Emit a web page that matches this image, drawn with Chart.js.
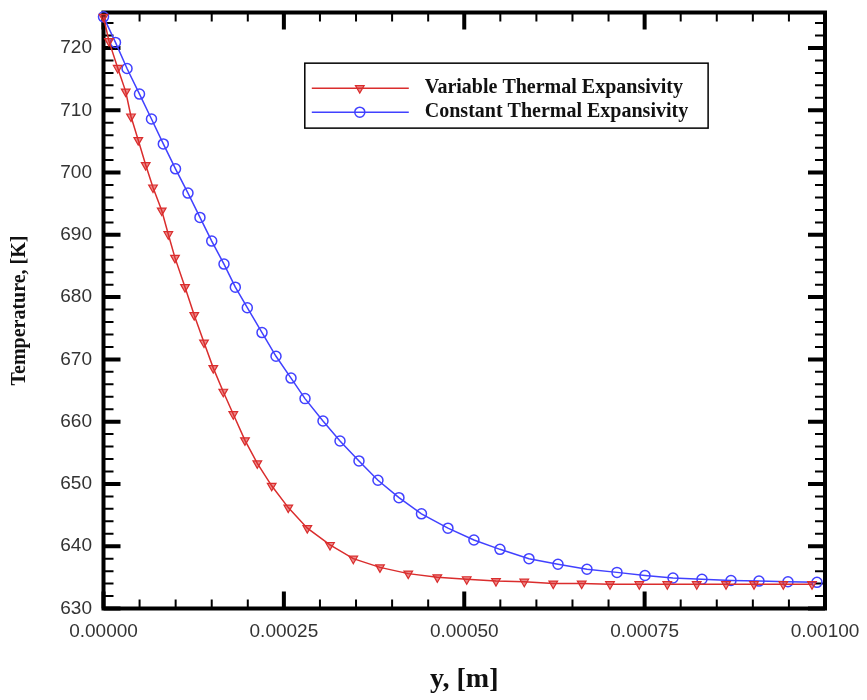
<!DOCTYPE html>
<html>
<head>
<meta charset="utf-8">
<title>Temperature profile</title>
<script src="https://cdn.jsdelivr.net/npm/chart.js@4.4.1/dist/chart.umd.min.js"></script>
<style>
  html, body { margin: 0; padding: 0; background: #fff; }
  #wrap { width: 867px; height: 700px; position: relative; }
</style>
</head>
<body>
<div id="wrap"><canvas id="chart"></canvas></div>
<script>
// position y [m] and temperature [K]
const positionVar = [0, 7.6e-6, 19.7e-6, 30.8e-6, 38.1e-6, 48.2e-6, 58.5e-6, 68.6e-6, 80.7e-6, 89.8e-6,
  99.1e-6, 113.0e-6, 125.8e-6, 139.3e-6, 152.2e-6, 166.0e-6, 179.9e-6, 196.1e-6, 213.2e-6, 233.1e-6,
  256.1e-6, 282.5e-6, 313.9e-6, 346.2e-6, 383.2e-6, 422.4e-6, 462.7e-6, 503.4e-6, 544.0e-6, 583.2e-6,
  623.4e-6, 662.8e-6, 702.0e-6, 742.6e-6, 781.4e-6, 822.2e-6, 862.8e-6, 901.6e-6, 942.2e-6, 982.0e-6];
const tempVar = [725, 721.1, 716.8, 713.0, 709.0, 705.2, 701.2, 697.6, 693.9, 690.1,
  686.3, 681.6, 677.1, 672.7, 668.6, 664.8, 661.2, 657.0, 653.3, 649.7,
  646.2, 642.9, 640.2, 638.0, 636.6, 635.6, 635.0, 634.7, 634.4, 634.3,
  634.0, 634.0, 633.9, 633.9, 633.9, 633.9, 633.9, 633.9, 633.9, 633.9];

const positionConst = [0, 16.6e-6, 32.6e-6, 49.9e-6, 66.5e-6, 82.9e-6, 99.8e-6, 117.1e-6, 133.7e-6, 150.0e-6,
  167.0e-6, 182.7e-6, 199.3e-6, 219.7e-6, 239.1e-6, 259.9e-6, 279.3e-6, 304.2e-6, 327.8e-6, 354.1e-6,
  380.4e-6, 409.5e-6, 440.7e-6, 477.4e-6, 513.4e-6, 549.5e-6, 589.7e-6, 629.9e-6, 670.1e-6, 711.7e-6,
  750.5e-6, 789.3e-6, 829.5e-6, 869.7e-6, 908.5e-6, 948.7e-6, 988.9e-6];
const tempConst = [725, 720.9, 716.7, 712.6, 708.6, 704.6, 700.6, 696.7, 692.8, 689.0,
  685.3, 681.6, 678.3, 674.3, 670.5, 667.0, 663.7, 660.1, 656.9, 653.7,
  650.6, 647.8, 645.2, 642.9, 641.0, 639.5, 638.0, 637.1, 636.3, 635.8,
  635.3, 634.9, 634.7, 634.5, 634.4, 634.3, 634.2];

const xTickLabels = ["0.00000", "0.00025", "0.00050", "0.00075", "0.00100"];
const yTickLabels = ["630", "640", "650", "660", "670", "680", "690", "700", "710", "720"];

const redLine = "rgb(218,45,45)";
const blueLine = "rgb(65,65,255)";

// thick frame with inward major/minor ticks on all four sides
const frameTicks = {
  id: "frameTicks",
  beforeDatasetsDraw(chart) {
    const { ctx, chartArea: a, scales } = chart;
    ctx.save();
    ctx.strokeStyle = "#000";
    scales.x.ticks.forEach((t) => {
      const px = scales.x.getPixelForValue(t.value);
      const major = t.label !== "";
      const len = major ? 17 : 9;
      ctx.lineWidth = major ? 4 : 2;
      ctx.beginPath();
      ctx.moveTo(px, a.bottom);
      ctx.lineTo(px, a.bottom - len);
      ctx.moveTo(px, a.top);
      ctx.lineTo(px, a.top + len);
      ctx.stroke();
    });
    scales.y.ticks.forEach((t) => {
      const py = scales.y.getPixelForValue(t.value);
      const major = t.label !== "";
      const len = major ? 17 : 10;
      ctx.lineWidth = major ? 4 : 2;
      ctx.beginPath();
      ctx.moveTo(a.left, py);
      ctx.lineTo(a.left + len, py);
      ctx.moveTo(a.right, py);
      ctx.lineTo(a.right - len, py);
      ctx.stroke();
    });
    ctx.lineWidth = 4;
    ctx.strokeRect(a.left, a.top, a.right - a.left, a.bottom - a.top);
    ctx.restore();
  },
};

// boxed legend inside the plot, like the original
const boxedLegend = {
  id: "boxedLegend",
  afterDatasetsDraw(chart) {
    const { ctx, chartArea: a } = chart;
    const w = a.right - a.left;
    const h = a.bottom - a.top;
    const left = a.left + w * 0.279;
    const right = a.left + w * 0.838;
    const top = a.top + h * 0.085;
    const bottom = a.top + h * 0.194;
    ctx.save();
    ctx.fillStyle = "#fff";
    ctx.fillRect(left, top, right - left, bottom - top);
    ctx.strokeStyle = "#000";
    ctx.lineWidth = 1.5;
    ctx.strokeRect(left, top, right - left, bottom - top);
    chart.data.datasets.forEach((ds, i) => {
      const y = top + 25 + i * 24;
      ctx.strokeStyle = ds.borderColor;
      ctx.lineWidth = 1.5;
      ctx.beginPath();
      ctx.moveTo(left + 7, y);
      ctx.lineTo(left + 104, y);
      ctx.stroke();
      ctx.fillStyle = ds.backgroundColor;
      ctx.lineWidth = ds.pointBorderWidth;
      Chart.helpers.drawPoint(ctx, {
        pointStyle: ds.pointStyle,
        rotation: ds.pointRotation,
        radius: ds.pointRadius,
        borderWidth: ds.pointBorderWidth,
      }, left + 55, y);
      ctx.fillStyle = "#111";
      ctx.font = 'bold 20px "Liberation Serif", "Times New Roman", serif';
      ctx.textBaseline = "middle";
      ctx.textAlign = "left";
      ctx.fillText(ds.label, left + 120, y);
    });
    ctx.restore();
  },
};

const tickFont = { family: '"Liberation Sans", Arial, sans-serif', size: 19 };

new Chart(document.getElementById("chart"), {
  type: "line",
  data: {
    datasets: [
      {
        label: "Variable Thermal Expansivity",
        data: positionVar.map((p, i) => ({ x: p, y: tempVar[i] })),
        borderColor: redLine,
        backgroundColor: "rgba(218,45,45,0.55)",
        borderWidth: 1.5,
        pointStyle: "triangle",
        pointRotation: 180,
        pointRadius: 5,
        pointBorderWidth: 1.2,
        tension: 0,
        clip: false,
      },
      {
        label: "Constant Thermal Expansivity",
        data: positionConst.map((p, i) => ({ x: p, y: tempConst[i] })),
        borderColor: blueLine,
        backgroundColor: "rgba(255,255,255,0)",
        borderWidth: 1.5,
        pointStyle: "circle",
        pointRadius: 5,
        pointBorderWidth: 1.5,
        tension: 0,
        clip: false,
      },
    ],
  },
  options: {
    responsive: true,
    maintainAspectRatio: false,
    animation: false,
    layout: { padding: { top: 12.5, right: 42, bottom: 0, left: 0 } },
    plugins: {
      legend: { display: false },
      tooltip: { enabled: false },
    },
    scales: {
      x: {
        type: "linear",
        min: 0,
        max: 0.001,
        grid: { display: false, drawTicks: false },
        border: { display: false },
        ticks: {
          stepSize: 0.00005,
          autoSkip: false,
          maxRotation: 0,
          padding: 12,
          color: "#333",
          font: tickFont,
          callback: (v) => {
            const s = v.toFixed(5);
            return xTickLabels.includes(s) ? s : "";
          },
        },
        title: {
          display: true,
          text: "y, [m]",
          color: "#111",
          font: { family: '"Liberation Serif", "Times New Roman", serif', size: 28, weight: "bold" },
          padding: { top: 0, bottom: 3 },
        },
        afterFit: (scale) => {
          scale.height = 91.5;
          scale.paddingLeft = 0;
          scale.paddingRight = 0;
        },
      },
      y: {
        min: 630,
        max: 725.7,
        grid: { display: false, drawTicks: false },
        border: { display: false },
        ticks: {
          stepSize: 2,
          autoSkip: false,
          includeBounds: false,
          padding: 11.5,
          color: "#333",
          font: tickFont,
          callback: (v) => (yTickLabels.includes(String(v)) ? String(v) : ""),
        },
        title: {
          display: true,
          text: "Temperature, [K]",
          color: "#111",
          font: { family: '"Liberation Serif", "Times New Roman", serif', size: 20, weight: "bold" },
          padding: { top: 8, bottom: 0 },
        },
        afterFit: (scale) => {
          scale.width = 103.5;
          scale.paddingTop = 0;
          scale.paddingBottom = 0;
        },
      },
    },
  },
  plugins: [frameTicks, boxedLegend],
});
</script>
</body>
</html>
